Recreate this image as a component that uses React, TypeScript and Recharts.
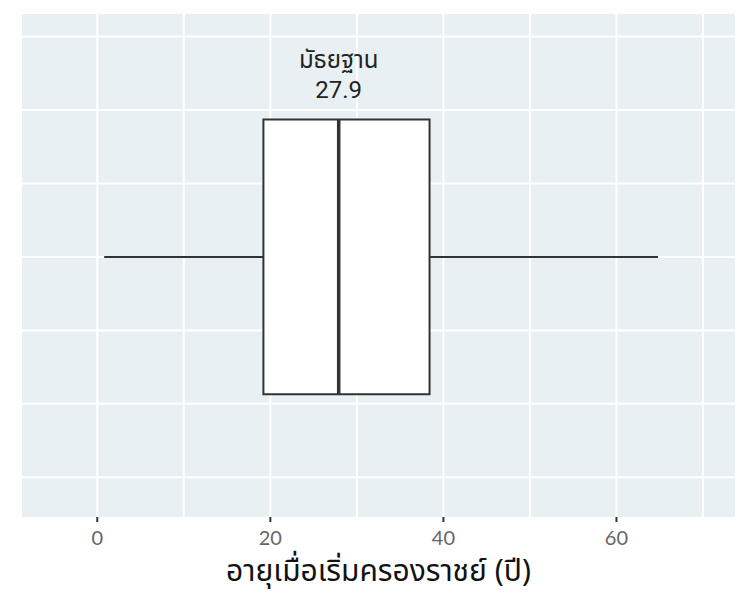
import React from "react";
import {
  ComposedChart,
  XAxis,
  YAxis,
  CartesianGrid,
  ReferenceArea,
  ReferenceLine
} from "recharts";

// box statistics (age at accession, years)
const whiskerEnds = [0.8, 64.8];
const quartiles = [19.2, 38.4];
const medians = [27.9];
const medianLabel = "มัธยฐาน";
const axisTitle = "อายุเมื่อเริ่มครองราชย์ (ปี)";

const xTicks = [0, 20, 40, 60];
const gridX = [0, 10, 20, 30, 40, 50, 60, 70];
const gridY = [-3, -2, -1, 0, 1, 2, 3];

const BOX_HALF = 1.87;
const INK = "#333333";

const MedianLabel = ({ viewBox, value }: any) => {
  const x = viewBox.x + (viewBox.width || 0) / 2;
  const y = viewBox.y;
  return (
    <g fontFamily='Roboto, "Noto Sans Thai", "Noto Sans", sans-serif' fontSize={24} fill="#222">
      <text x={x} y={y - 52} textAnchor="middle">{medianLabel}</text>
      <text x={x} y={y - 22} textAnchor="middle">{value}</text>
    </g>
  );
};

const App: React.FC = () => {
  const median = medians[0];
  const data = [{ y: 0, median }];

  return (
    <div style={{ position: "absolute", left: 0, top: 0, width: 750, height: 600, background: "#fff" }}>
      <ComposedChart
        width={750}
        height={600}
        data={data}
        margin={{ top: 14, right: 15, left: 22, bottom: 0 }}
      >
        <CartesianGrid
          fill="#e8f0f4"
          stroke="#ffffff"
          strokeWidth={2}
          verticalValues={gridX}
          horizontalValues={gridY}
        />
        <XAxis
          type="number"
          dataKey="median"
          domain={[-8.7, 73.7]}
          ticks={xTicks}
          allowDataOverflow
          axisLine={false}
          tickLine={{ stroke: INK, strokeWidth: 2 }}
          tickSize={5}
          tickMargin={9}
          height={83}
          tick={{ fill: "#666666", fontSize: 20, fontFamily: "Lato, sans-serif" }}
          label={{
            value: axisTitle,
            position: "insideBottom",
            offset: 19,
            fill: "#111",
            fontSize: 30,
            fontFamily: '"Noto Sans Thai", "Noto Sans", sans-serif'
          }}
        />
        <YAxis type="number" dataKey="y" domain={[-3.54, 3.306]} hide allowDataOverflow />
        <ReferenceLine
          segment={[{ x: whiskerEnds[0], y: 0 }, { x: quartiles[0], y: 0 }]}
          stroke={INK}
          strokeWidth={2}
        />
        <ReferenceLine
          segment={[{ x: quartiles[1], y: 0 }, { x: whiskerEnds[1], y: 0 }]}
          stroke={INK}
          strokeWidth={2}
        />
        <ReferenceArea
          x1={quartiles[0]}
          x2={quartiles[1]}
          y1={-BOX_HALF}
          y2={BOX_HALF}
          fill="#ffffff"
          fillOpacity={1}
          stroke={INK}
          strokeWidth={2}
        />
        <ReferenceLine
          segment={[{ x: median, y: -BOX_HALF }, { x: median, y: BOX_HALF }]}
          stroke={INK}
          strokeWidth={3.5}
          label={<MedianLabel value={median.toFixed(1)} />}
        />
      </ComposedChart>
    </div>
  );
};

export default App;
